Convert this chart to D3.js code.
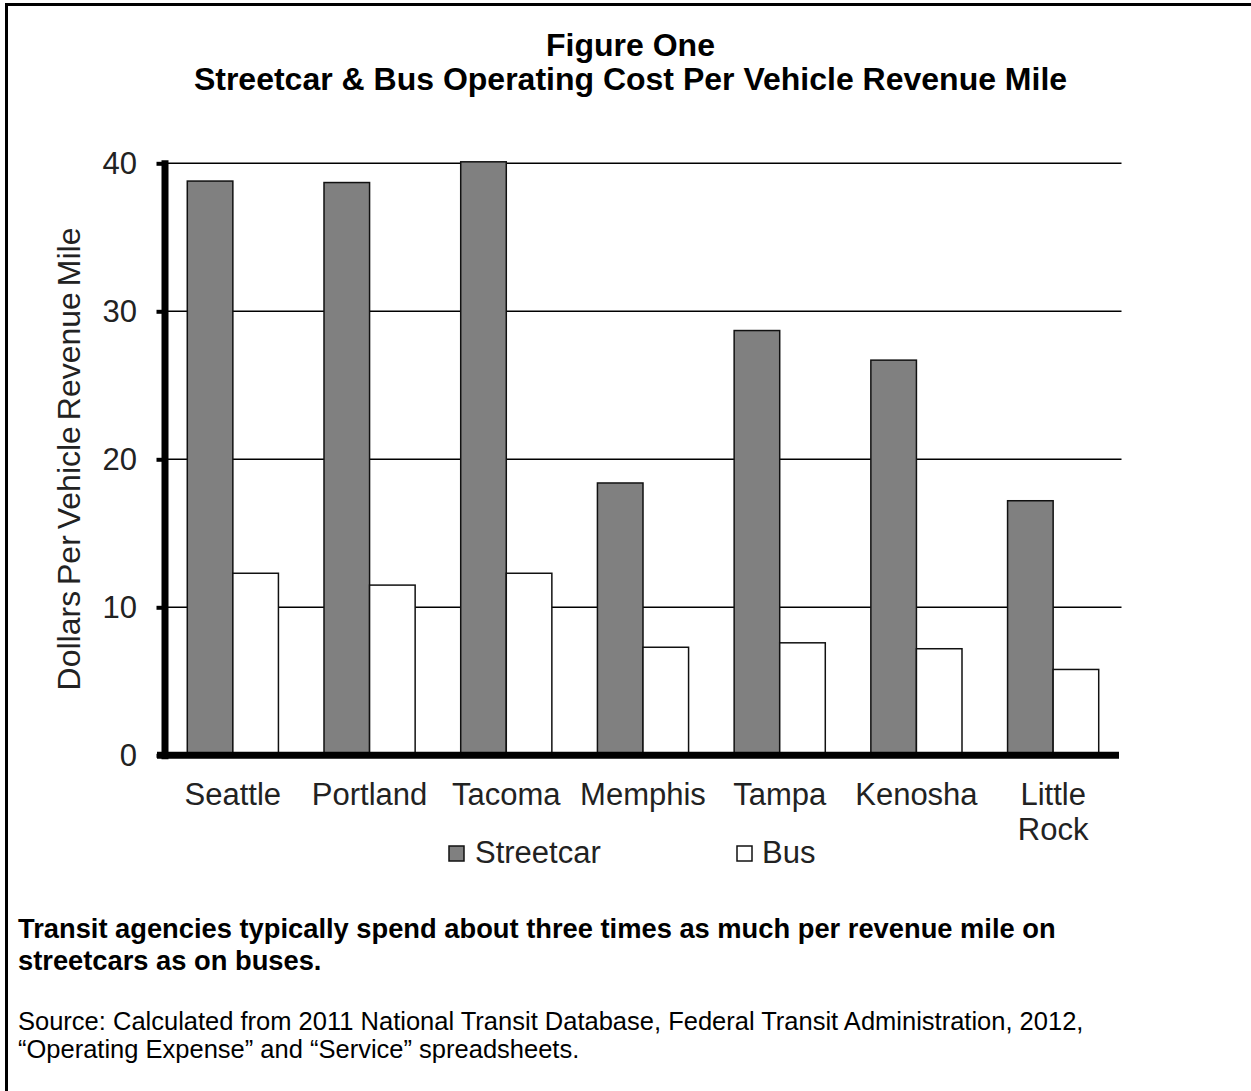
<!DOCTYPE html>
<html>
<head>
<meta charset="utf-8">
<script src="https://cdn.jsdelivr.net/npm/d3@7/dist/d3.min.js"></script>
<style>
  html, body { margin: 0; padding: 0; background: #fff; }
  svg { display: block; }
  text { font-family: "Liberation Sans", Arial, sans-serif; }
</style>
</head>
<body>
<svg id="chart" width="1251" height="1091"></svg>
<script>
// Operating cost per vehicle revenue mile (dollars), 2011
const categories = ["Seattle", "Portland", "Tacoma", "Memphis", "Tampa", "Kenosha", "Little Rock"];
const streetcar = [38.8, 38.7, 40.1, 18.4, 28.7, 26.7, 17.2];
const bus = [12.3, 11.5, 12.3, 7.3, 7.6, 7.2, 5.8];
const seriesNames = ["Streetcar", "Bus"];
const yTicks = [0, 10, 20, 30, 40];

const titleLines = ["Figure One", "Streetcar & Bus Operating Cost Per Vehicle Revenue Mile"];
const yLabel = "Dollars Per Vehicle Revenue Mile";
const noteLines = [
  "Transit agencies typically spend about three times as much per revenue mile on",
  "streetcars as on buses."
];
const sourceLines = [
  "Source: Calculated from 2011 National Transit Database, Federal Transit Administration, 2012,",
  "\u201cOperating Expense\u201d and \u201cService\u201d spreadsheets."
];

const fills = { Streetcar: "#808080", Bus: "#ffffff" };

const svg = d3.select("#chart");

// Outer frame (left and top edges visible)
svg.append("path")
  .attr("d", "M6.5,1100 V4.5 H1260")
  .attr("fill", "none")
  .attr("stroke", "#000")
  .attr("stroke-width", 3);

// Title
svg.append("g").selectAll("text")
  .data(titleLines)
  .join("text")
  .attr("x", 630.5)
  .attr("y", (d, i) => 56 + i * 34)
  .attr("text-anchor", "middle")
  .attr("font-weight", "bold")
  .attr("font-size", 32)
  .attr("fill", "#000")
  .text(d => d);

// Scales
const plotLeft = 164.5, plotRight = 1121.5, plotBottom = 755.3, plotTop = 163.3;

const x0 = d3.scaleBand()
  .domain(categories)
  .range([plotLeft, plotRight])
  .paddingInner(1 / 3)
  .paddingOuter(1 / 6);

const x1 = d3.scaleBand()
  .domain(seriesNames)
  .range([0, x0.bandwidth()]);

const y = d3.scaleLinear()
  .domain([0, 40])
  .range([plotBottom, plotTop]);

// Horizontal gridlines
svg.append("g")
  .selectAll("line")
  .data(yTicks.filter(t => t > 0))
  .join("line")
  .attr("x1", plotLeft + 3.5)
  .attr("x2", plotRight)
  .attr("y1", d => y(d))
  .attr("y2", d => y(d))
  .attr("stroke", "#000")
  .attr("stroke-width", 1.5);

// Bars
const rows = categories.map((c, i) => ({ category: c, values: [
  { key: "Streetcar", value: streetcar[i] },
  { key: "Bus", value: bus[i] }
]}));

svg.append("g")
  .selectAll("g")
  .data(rows)
  .join("g")
  .attr("transform", d => `translate(${x0(d.category)},0)`)
  .selectAll("rect")
  .data(d => d.values)
  .join("rect")
  .attr("x", d => x1(d.key))
  .attr("width", x1.bandwidth())
  .attr("y", d => y(d.value))
  .attr("height", d => y(0) - y(d.value))
  .attr("fill", d => fills[d.key])
  .attr("stroke", "#111")
  .attr("stroke-width", 1.5);

// Y axis
const yAxis = svg.append("g")
  .attr("transform", `translate(${plotLeft},0)`)
  .call(d3.axisLeft(y).tickValues(yTicks).tickSize(8).tickSizeOuter(0).tickPadding(19.5));

yAxis.select(".domain")
  .attr("stroke", "#000")
  .attr("stroke-width", 7)
  .attr("stroke-linecap", "square");
yAxis.selectAll(".tick line")
  .attr("stroke", "#000")
  .attr("stroke-width", 4);
yAxis.selectAll(".tick text")
  .attr("font-family", "'Liberation Sans', Arial, sans-serif")
  .attr("font-size", 31)
  .attr("fill", "#222");

// X axis baseline
svg.append("line")
  .attr("x1", plotLeft - 7.5)
  .attr("x2", plotRight - 2.5)
  .attr("y1", y(0))
  .attr("y2", y(0))
  .attr("stroke", "#000")
  .attr("stroke-width", 7);

// Category labels (multi-word names wrap onto a second line)
svg.append("g")
  .selectAll("text")
  .data(categories)
  .join("text")
  .attr("x", d => x0(d) + x0.bandwidth() / 2)
  .attr("y", 805)
  .attr("text-anchor", "middle")
  .attr("font-size", 31)
  .attr("fill", "#222")
  .each(function (d) {
    const parts = d.split(" ");
    d3.select(this).selectAll("tspan")
      .data(parts)
      .join("tspan")
      .attr("x", x0(d) + x0.bandwidth() / 2)
      .attr("dy", (p, i) => i === 0 ? 0 : 35)
      .text(p => p);
  });

// Y axis title
svg.append("text")
  .attr("transform", "translate(80,459) rotate(-90)")
  .attr("text-anchor", "middle")
  .attr("font-size", 32)
  .attr("word-spacing", -3)
  .attr("fill", "#222")
  .text(yLabel);

// Legend
const legendX = [449, 737];
const legend = svg.append("g")
  .selectAll("g")
  .data(seriesNames)
  .join("g")
  .attr("transform", (d, i) => `translate(${legendX[i]},846)`);
legend.append("rect")
  .attr("width", 15)
  .attr("height", 15)
  .attr("fill", d => fills[d])
  .attr("stroke", "#111")
  .attr("stroke-width", 1.5);
legend.append("text")
  .attr("x", (d, i) => i === 0 ? 26 : 25)
  .attr("y", 17)
  .attr("font-size", 31)
  .attr("fill", "#222")
  .text(d => d);

// Note and source
svg.append("g").selectAll("text")
  .data(noteLines)
  .join("text")
  .attr("x", 18)
  .attr("y", (d, i) => 938 + i * 32)
  .attr("font-weight", "bold")
  .attr("font-size", 27.3)
  .attr("fill", "#000")
  .text(d => d);

svg.append("g").selectAll("text")
  .data(sourceLines)
  .join("text")
  .attr("x", 18)
  .attr("y", (d, i) => 1030 + i * 28)
  .attr("font-size", 25.5)
  .attr("fill", "#000")
  .text(d => d);
</script>
</body>
</html>
